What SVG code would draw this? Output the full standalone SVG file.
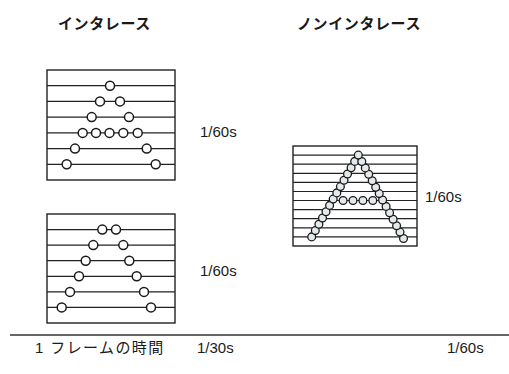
<svg xmlns="http://www.w3.org/2000/svg" width="509" height="374" viewBox="0 0 509 374">
<style>
.bg{fill:#fff}
.box{fill:#fff;stroke:#222;stroke-width:1.4}
.ln{stroke:#222;stroke-width:1.2}
.c{fill:#fff;stroke:#1a1a1a;stroke-width:1.5}
.a{fill:#e4e9ec;stroke:#1a1a1a;stroke-width:1.3}
.t{font-family:"Liberation Sans","Noto Sans CJK JP",sans-serif;fill:#1a1a1a}
.title{font-family:"Noto Sans CJK JP","Liberation Sans",sans-serif;font-weight:bold;font-size:15px;fill:#1a1a1a;letter-spacing:0.6px}
.lbl{font-size:15px}
</style>
<rect class="bg" x="0" y="0" width="509" height="374"/>
<g id="titles">
<text class="title" x="58" y="29">インタレース</text>
<text class="title" x="297" y="29">ノンインタレース</text>
</g>
<g id="field1">
<rect class="box" x="47" y="70" width="128" height="110"/>
<g class="ln">
<line x1="47" y1="85.7" x2="175" y2="85.7"/>
<line x1="47" y1="101.4" x2="175" y2="101.4"/>
<line x1="47" y1="117.1" x2="175" y2="117.1"/>
<line x1="47" y1="132.9" x2="175" y2="132.9"/>
<line x1="47" y1="148.6" x2="175" y2="148.6"/>
<line x1="47" y1="164.3" x2="175" y2="164.3"/>
</g>
<g>
<circle class="c" cx="110" cy="85.7" r="4.5"/>
<circle class="c" cx="100" cy="101.4" r="4.5"/>
<circle class="c" cx="120" cy="101.4" r="4.5"/>
<circle class="c" cx="91.7" cy="117.1" r="4.5"/>
<circle class="c" cx="129" cy="117.1" r="4.5"/>
<circle class="c" cx="82.7" cy="132.9" r="4.5"/>
<circle class="c" cx="96" cy="132.9" r="4.5"/>
<circle class="c" cx="109.5" cy="132.9" r="4.5"/>
<circle class="c" cx="123.3" cy="132.9" r="4.5"/>
<circle class="c" cx="137.7" cy="132.9" r="4.5"/>
<circle class="c" cx="75" cy="148.6" r="4.5"/>
<circle class="c" cx="146.7" cy="148.6" r="4.5"/>
<circle class="c" cx="66.7" cy="164.3" r="4.5"/>
<circle class="c" cx="155.7" cy="164.3" r="4.5"/>
</g>
<text class="t lbl" x="200" y="137">1/60s</text>
</g>
<g id="field2">
<rect class="box" x="47" y="214" width="128" height="109"/>
<g class="ln">
<line x1="47" y1="229.6" x2="175" y2="229.6"/>
<line x1="47" y1="245.1" x2="175" y2="245.1"/>
<line x1="47" y1="260.7" x2="175" y2="260.7"/>
<line x1="47" y1="276.3" x2="175" y2="276.3"/>
<line x1="47" y1="291.9" x2="175" y2="291.9"/>
<line x1="47" y1="307.4" x2="175" y2="307.4"/>
</g>
<g>
<circle class="c" cx="102.3" cy="229.6" r="4.5"/>
<circle class="c" cx="116" cy="229.6" r="4.5"/>
<circle class="c" cx="93.3" cy="245.1" r="4.5"/>
<circle class="c" cx="123.3" cy="245.1" r="4.5"/>
<circle class="c" cx="85.7" cy="260.7" r="4.5"/>
<circle class="c" cx="129.3" cy="260.7" r="4.5"/>
<circle class="c" cx="79" cy="276.3" r="4.5"/>
<circle class="c" cx="136.7" cy="276.3" r="4.5"/>
<circle class="c" cx="70" cy="291.9" r="4.5"/>
<circle class="c" cx="144" cy="291.9" r="4.5"/>
<circle class="c" cx="61.7" cy="307.4" r="4.5"/>
<circle class="c" cx="151" cy="307.4" r="4.5"/>
</g>
<text class="t lbl" x="200" y="276">1/60s</text>
</g>
<g id="progressive">
<rect class="box" x="293" y="146" width="124" height="100"/>
<g class="ln">
<line x1="293" y1="155.1" x2="417" y2="155.1"/>
<line x1="293" y1="164.2" x2="417" y2="164.2"/>
<line x1="293" y1="173.3" x2="417" y2="173.3"/>
<line x1="293" y1="182.4" x2="417" y2="182.4"/>
<line x1="293" y1="191.5" x2="417" y2="191.5"/>
<line x1="293" y1="200.5" x2="417" y2="200.5"/>
<line x1="293" y1="209.6" x2="417" y2="209.6"/>
<line x1="293" y1="218.7" x2="417" y2="218.7"/>
<line x1="293" y1="227.8" x2="417" y2="227.8"/>
<line x1="293" y1="236.9" x2="417" y2="236.9"/>
</g>
<g>
<circle class="a" cx="311.7" cy="236.9" r="3.9"/>
<circle class="a" cx="315.3" cy="230.6" r="3.9"/>
<circle class="a" cx="318.9" cy="224.3" r="3.9"/>
<circle class="a" cx="322.5" cy="218.0" r="3.9"/>
<circle class="a" cx="326.0" cy="211.7" r="3.9"/>
<circle class="a" cx="329.6" cy="205.4" r="3.9"/>
<circle class="a" cx="333.2" cy="199.1" r="3.9"/>
<circle class="a" cx="336.8" cy="192.9" r="3.9"/>
<circle class="a" cx="340.4" cy="186.6" r="3.9"/>
<circle class="a" cx="344.0" cy="180.3" r="3.9"/>
<circle class="a" cx="347.5" cy="174.0" r="3.9"/>
<circle class="a" cx="351.1" cy="167.7" r="3.9"/>
<circle class="a" cx="354.7" cy="161.4" r="3.9"/>
<circle class="a" cx="403.5" cy="238.5" r="3.9"/>
<circle class="a" cx="400.0" cy="232.1" r="3.9"/>
<circle class="a" cx="396.6" cy="225.7" r="3.9"/>
<circle class="a" cx="393.1" cy="219.3" r="3.9"/>
<circle class="a" cx="389.6" cy="212.8" r="3.9"/>
<circle class="a" cx="386.1" cy="206.4" r="3.9"/>
<circle class="a" cx="382.6" cy="200.0" r="3.9"/>
<circle class="a" cx="379.2" cy="193.6" r="3.9"/>
<circle class="a" cx="375.7" cy="187.2" r="3.9"/>
<circle class="a" cx="372.2" cy="180.8" r="3.9"/>
<circle class="a" cx="368.7" cy="174.3" r="3.9"/>
<circle class="a" cx="365.3" cy="167.9" r="3.9"/>
<circle class="a" cx="361.8" cy="161.5" r="3.9"/>
<circle class="a" cx="358.3" cy="155.1" r="3.9"/>
<circle class="a" cx="343.1" cy="200.5" r="3.9"/>
<circle class="a" cx="353.0" cy="200.5" r="3.9"/>
<circle class="a" cx="362.9" cy="200.5" r="3.9"/>
<circle class="a" cx="372.8" cy="200.5" r="3.9"/>
</g>
<text class="t lbl" x="425" y="202">1/60s</text>
</g>
<g id="connectors">
<line x1="10" y1="335" x2="509" y2="335" stroke="#333" stroke-width="1.5"/>
</g>
<g id="footer">
<text class="t" x="35" y="353" font-size="15" letter-spacing="1.4">1 フレームの時間</text>
<text class="t lbl" x="197" y="353">1/30s</text>
<text class="t lbl" x="447" y="353">1/60s</text>
</g>
</svg>
